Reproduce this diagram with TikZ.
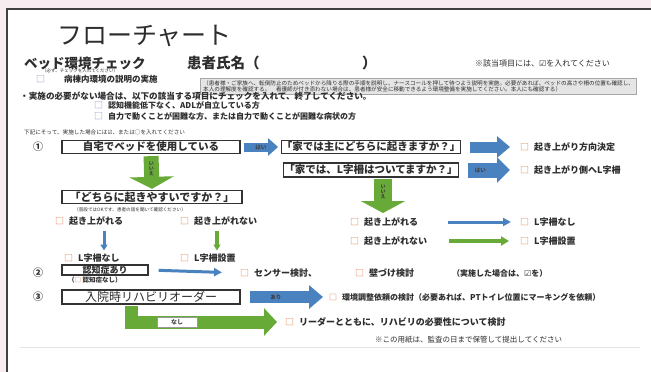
\documentclass[tikz,border=0pt]{standalone}
\usepackage{fontspec}
\setmainfont{Noto Sans CJK JP}
\newfontfamily\dejavu{DejaVu Sans}
\usetikzlibrary{arrows.meta,calc}
\definecolor{bgpink}{RGB}{247,237,240}
\definecolor{ablue}{RGB}{74,130,192}
\definecolor{agreen}{RGB}{104,170,56}
\definecolor{chkorange}{RGB}{232,140,96}
\definecolor{chkblue}{RGB}{120,140,190}
\definecolor{txt}{RGB}{45,45,45}
\newcommand\fs[1]{\fontsize{#1}{#1}\selectfont}
\newcommand\obox{\textcolor{chkorange}{□}}
\newcommand\bbox{\textcolor{chkblue}{□}}
\newcommand\chk{{\dejavu ☑}}
\tikzset{
  flowbox/.style={draw=black!80, line width=1.3pt, fill=white, inner sep=0pt, minimum height=13pt, font=\fs{10.5}\bfseries, text=txt},
  item/.style={anchor=west, inner sep=0pt, font=\fs{9}\bfseries, text=txt},
  plain/.style={anchor=west, inner sep=0pt, text=txt},
  num/.style={inner sep=0pt, font=\fs{10}\bfseries, text=txt},
  fatarrow/.style n args={4}{draw=#1, line width=#2, -{Triangle[width=#3,length=#4]}},
  lbl/.style={inner sep=0pt, font=\fs{5.5}\bfseries, text=black!75, align=center}
}
\begin{document}
\begin{tikzpicture}[x=1pt,y=-1pt]
\useasboundingbox (0,0) rectangle (651,372);
\clip (0,0) rectangle (651,372);
\fill[bgpink] (0,0) rectangle (651,372);
\draw[draw=black!75, line width=1.5pt, fill=white] (7,9) rectangle (665,385);
\draw[black!10, line width=0.6pt] (20,347) -- (640,347);

% header
\node[plain, font=\fs{25}] (title) at (57,36) {フローチャート};
\node[plain, font=\fs{13.5}\bfseries] (bed) at (24,63) {ベッド環境チェック};
\node[plain, font=\fs{14.5}\bfseries] (name) at (187,63) {患者氏名（};
\node[plain, font=\fs{14.5}\bfseries] (namer) at (362,63) {）};
\node[plain, font=\fs{8}] (note) at (475,63) {※該当項目には、\chk を入れてください};
\node[plain, font=\fs{4.5}] (must) at (42,71) {（必ず、チェックを入れてください）};
\node[plain, font=\fs{9}] (cb0) at (36,79) {\bbox};
\node[item, font=\fs{8.5}\bfseries] (ward) at (64,79) {病棟内環境の説明の実施};
\draw[fill=black!10, draw=black!35, line width=0.5pt] (200,78) rectangle (636,94);
\node[plain, font=\fs{5.6}] (g1) at (203,83.5) {（患者様・ご家族へ、転倒防止のためベッドから降りる際の手順を説明し、ナースコールを押して待つよう説明を実施。必要があれば、ベッドの高さや柵の位置も確認し、};
\node[plain, font=\fs{5.6}] (g2) at (203,89.5) {本人の理解度を確認する。　看護師が付き添わない場合は、患者様が安全に移動できるよう環境整備を実施してください。本人にも確認する）};
\node[plain, font=\fs{8.6}\bfseries] (skip) at (20,96) {・実施の必要がない場合は、以下の該当する項目にチェックを入れて、終了してください。};
\node[plain, font=\fs{9}] (cb1) at (94,105) {\bbox};
\node[item, font=\fs{8}\bfseries] (adl) at (108,105) {認知機能低下なく、ADLが自立している方};
\node[plain, font=\fs{9}] (cb2) at (94,116) {\bbox};
\node[item, font=\fs{8}\bfseries] (self) at (108,116) {自力で動くことが困難な方、または自力で動くことが困難な病状の方};
\node[plain, font=\fs{5.6}] (follow) at (24,132) {下記にそって、実施した場合には\chk 、または○を入れてください};

% flow 1
\node[num] (n1) at (38,147) {①};
\node[flowbox, minimum width=178pt] (home) at (151,147) {自宅でベッドを使用している};
\node[flowbox, minimum width=175pt] (q1) at (371,147) {「家では主にどちらに起きますか？」};
\node[flowbox, minimum width=175pt, minimum height=14pt] (q2) at (371,170) {「家では、L字柵はついてますか？」};
\node[flowbox, minimum width=180pt, font=\fs{11}\bfseries] (q3) at (152,197) {「どちらに起きやすいですか？」};
\node[plain, font=\fs{4.6}] (q3n) at (74,210) {（普段ではOKです、患者の話を聞いて確認ください）};

\node[item] (dir) at (520,147) {\obox\hspace{5pt}起き上がり方向決定};
\node[item] (side) at (520,170) {\obox\hspace{5pt}起き上がり側へL字柵};
\node[item] (rcan) at (350,222) {\obox\hspace{5pt}起き上がれる};
\node[item] (rcant) at (350,241) {\obox\hspace{5pt}起き上がれない};
\node[item] (rnone) at (520,222) {\obox\hspace{5pt}L字柵なし};
\node[item] (rset) at (520,241) {\obox\hspace{5pt}L字柵設置};
\coordinate (q2tip) at (383,213);

\node[item] (lcan) at (55,221) {\obox\hspace{5pt}起き上がれる};
\node[item] (lcant) at (180,221) {\obox\hspace{5pt}起き上がれない};
\node[item] (lnone) at (64,258) {\obox\hspace{5pt}L字柵なし};
\node[item] (lset) at (180,258) {\obox\hspace{5pt}L字柵設置};
\coordinate (lblue) at (104,231);
\coordinate (lgreen) at (217,231);

\draw[fatarrow={ablue}{9pt}{17pt}{10pt}, shorten <=3pt, shorten >=3pt] (home.east) -- node[lbl] {はい} (q1.west);
\draw[fatarrow={ablue}{11pt}{21pt}{13pt}, shorten <=9pt, shorten >=10pt] (q1.east) -- (dir.west);
\draw[fatarrow={ablue}{15pt}{25pt}{13pt}, shorten <=9pt, shorten >=10pt] (q2.east) -- node[lbl, pos=0.35] {はい} (side.west);
\draw[fatarrow={agreen}{15pt}{44pt}{12pt}, shorten <=2pt, shorten >=1pt] (home.south) -- node[lbl, pos=0.4, font=\fs{5}\bfseries] {い\\い\\え} (q3.north);
\draw[fatarrow={agreen}{18pt}{44pt}{12pt}, shorten <=1pt] (q2.south -| q2tip) -- node[lbl, pos=0.4, font=\fs{5}\bfseries] {い\\い\\え} (q2tip);
\draw[fatarrow={ablue}{3pt}{8pt}{8pt}, shorten <=30pt, shorten >=9pt] (rcan.east) -- (rnone.west);
\draw[fatarrow={agreen}{4.5pt}{9pt}{8pt}, shorten <=22pt, shorten >=11pt] (rcant.east) -- (rset.west);
\draw[fatarrow={ablue}{3pt}{7pt}{6pt}, shorten >=3pt] (lblue) -- (lblue |- lnone.north);
\draw[fatarrow={agreen}{3.5pt}{7pt}{6pt}, shorten >=3pt] (lgreen) -- (lgreen |- lset.north);

% flow 2
\node[num] (n2) at (38,273) {②};
\node[flowbox, minimum width=86pt, minimum height=10pt, font=\fs{9}\bfseries] (dem) at (105,270) {認知症あり};
\node[plain, font=\fs{6.5}\bfseries] (nodem) at (68,280) {（\obox\ 認知症なし）};
\node[item] (sensor) at (240,273) {\obox\hspace{5pt}センサー検討、};
\node[item] (wall) at (355,273) {\obox\hspace{5pt}壁づけ検討};
\node[plain, font=\fs{8}\bfseries] (done) at (452,273) {（実施した場合は、\chk を）};
\draw[fatarrow={ablue}{3pt}{8pt}{8pt}, shorten <=10pt, shorten >=18pt] (dem.east) -- (sensor.west);

% flow 3
\node[num] (n3) at (38,297) {③};
\node[flowbox, minimum width=178pt, minimum height=14pt, font=\fs{12}] (rehab) at (151,297) {入院時リハビリオーダー};
\node[item, font=\fs{8}\bfseries] (env) at (329,297) {\obox\hspace{5pt}環境調整依頼の検討（必要あれば、PTトイレ位置にマーキングを依頼）};
\node[item] (leader) at (285,322) {\obox\hspace{5pt}リーダーとともに、リハビリの必要性について検討};
\draw[fatarrow={ablue}{12pt}{23pt}{14pt}, shorten <=9pt, shorten >=6pt] (rehab.east) -- node[lbl, pos=0.4] {あり} (env.west);
\draw[fatarrow={agreen}{13pt}{27pt}{13pt}, line join=miter, shorten <=1pt, shorten >=8pt] ([xshift=-20pt]rehab.south) |- node[pos=0.65, draw=black!40, fill=white, line width=0.5pt, minimum width=40pt, minimum height=10pt, inner sep=0pt, font=\fs{6}\bfseries, text=black!75] (nasi) {なし} (leader.west);

\node[plain, font=\fs{7.5}] (foot) at (375,340) {※この用紙は、監査の日まで保管して提出してください};
\end{tikzpicture}
\end{document}
